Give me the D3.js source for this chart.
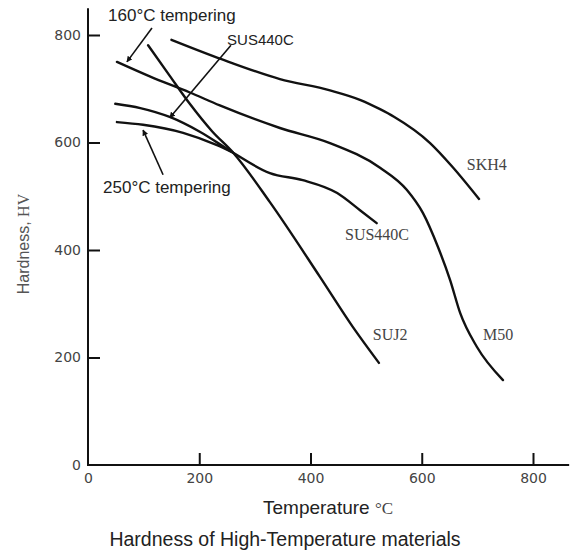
<!DOCTYPE html>
<html>
<head>
<meta charset="utf-8">
<script src="https://cdn.jsdelivr.net/npm/d3@7"></script>
<style>
  body { margin: 0; background: #fff; }
  svg { display: block; }
</style>
</head>
<body>
<div id="chart-area"></div>
<script>
// curve data: [temperature °C, hardness HV]
var skh4 = [[150,791],[240,755],[345,718],[435,697],[490,679],[525,662],[550,648],[615,599],[655,555],[703,495]];
var m50 = [[52,750],[111,723],[183,693],[237,669],[345,627],[435,599],[525,553],[573,512],[602,469],[629,406],[651,344],[669,283],[699,220],[746,158]];
var suj2 = [[108,781],[147,724],[183,672],[223,621],[261,581],[327,489],[417,350],[476,257],[523,190]];
var suj2t250 = [[52,638],[99,633],[171,618],[232,595],[261,581]];
var sus440c = [[49,672],[94,664],[148,647],[201,620],[261,581],[327,543],[386,530],[448,506],[489,474],[519,450]];

var tickValues = [0, 200, 400, 600, 800];

// labels next to the curves: [text, temperature, hardness]
var serifLabels = [["SKH4",681,549],["SUS440C",462,419],["SUJ2",512,233],["M50",710,233]];
var sansLabels = [["160°C tempering",36,826],["SUS440C",250,781],["250°C tempering",27,506]];
// arrows: [from T, from HV, to T, to HV]
var arrows = [[115,813,70,750],[257,781,147,646],[135,540,99,623]];

var width = 576, height = 554;

var svg = d3.select("#chart-area")
  .append("svg")
    .attr("width", width)
    .attr("height", height);

var x = d3.scaleLinear().domain([0, 800]).range([88, 533]);
var y = d3.scaleLinear().domain([0, 800]).range([465, 35]);

svg.append("defs").append("marker")
    .attr("id", "head")
    .attr("viewBox", "0 0 10 10")
    .attr("refX", 9).attr("refY", 5)
    .attr("markerWidth", 6).attr("markerHeight", 6)
    .attr("markerUnits", "userSpaceOnUse")
    .attr("orient", "auto")
  .append("path")
    .attr("d", "M0,0 L10,5 L0,10 z")
    .attr("fill", "#111");

// AXES
var yAxisCall = d3.axisLeft(y).tickValues(tickValues).tickSize(-12).tickPadding(7);
var gy = svg.append("g")
    .attr("transform", "translate(" + x(0) + ",0)")
    .call(yAxisCall);

var xAxisCall = d3.axisBottom(x).tickValues(tickValues).tickSize(-12).tickPadding(8);
var gx = svg.append("g")
    .attr("transform", "translate(0," + y(0) + ")")
    .call(xAxisCall);

[gx, gy].forEach(function(g){
  g.select(".domain").remove();
  g.selectAll(".tick line").attr("stroke", "#111").attr("stroke-width", 2);
  g.selectAll(".tick text")
    .attr("fill", "#444")
    .attr("font-family", "DejaVu Sans, sans-serif")
    .attr("font-size", "14px");
});
gx.selectAll(".tick").filter(function(d){ return d === 0; }).select("line").remove();
gy.selectAll(".tick").filter(function(d){ return d === 0; }).select("line").remove();

svg.append("line")
    .attr("x1", x(0)).attr("x2", x(0))
    .attr("y1", y(0) + 1).attr("y2", y(850))
    .attr("stroke", "#111").attr("stroke-width", 2);
svg.append("line")
    .attr("x1", x(0) - 1).attr("x2", x(865))
    .attr("y1", y(0)).attr("y2", y(0))
    .attr("stroke", "#111").attr("stroke-width", 2);

// CURVES
var line = d3.line()
  .x(function(d){ return x(d[0]); })
  .y(function(d){ return y(d[1]); })
  .curve(d3.curveMonotoneX);

svg.selectAll("path.curve")
  .data([skh4, m50, suj2, suj2t250, sus440c])
  .enter().append("path")
    .attr("class", "curve")
    .attr("d", line)
    .attr("fill", "none")
    .attr("stroke", "#111")
    .attr("stroke-width", 2.4)
    .attr("stroke-linecap", "round");

// ARROWS
svg.selectAll("line.arrow")
  .data(arrows)
  .enter().append("line")
    .attr("class", "arrow")
    .attr("x1", function(d){ return x(d[0]); })
    .attr("y1", function(d){ return y(d[1]); })
    .attr("x2", function(d){ return x(d[2]); })
    .attr("y2", function(d){ return y(d[3]); })
    .attr("stroke", "#111")
    .attr("stroke-width", 1.6)
    .attr("marker-end", "url(#head)");

// LABELS
svg.selectAll("text.serif")
  .data(serifLabels)
  .enter().append("text")
    .attr("x", function(d){ return x(d[1]); })
    .attr("y", function(d){ return y(d[2]); })
    .attr("font-family", "Liberation Serif, serif")
    .attr("font-size", "16px")
    .attr("fill", "#444")
    .text(function(d){ return d[0]; });

svg.selectAll("text.sans")
  .data(sansLabels)
  .enter().append("text")
    .attr("x", function(d){ return x(d[1]); })
    .attr("y", function(d){ return y(d[2]); })
    .attr("font-family", "Liberation Sans, Arial, sans-serif")
    .attr("font-size", function(d){ return d[0] === "SUS440C" ? "15px" : "17px"; })
    .attr("fill", "#222")
    .text(function(d){ return d[0]; });

// axis titles
var xt = svg.append("text")
    .attr("x", 263)
    .attr("y", 514)
    .attr("font-family", "Liberation Sans, Arial, sans-serif")
    .attr("font-size", "19px")
    .attr("fill", "#222")
    .text("Temperature ");
xt.append("tspan")
    .attr("font-family", "Liberation Serif, serif")
    .attr("font-size", "17px")
    .attr("fill", "#444")
    .text("°C");

var yt = svg.append("text")
    .attr("transform", "translate(29,244) rotate(-90)")
    .attr("text-anchor", "middle")
    .attr("font-family", "Liberation Sans, Arial, sans-serif")
    .attr("font-size", "16px")
    .attr("fill", "#555")
    .text("Hardness, ");
yt.append("tspan")
    .attr("font-family", "Liberation Serif, serif")
    .text("HV");

svg.append("text")
    .attr("x", 285)
    .attr("y", 546)
    .attr("text-anchor", "middle")
    .attr("font-family", "Liberation Sans, Arial, sans-serif")
    .attr("font-size", "19.5px")
    .attr("fill", "#222")
    .text("Hardness of High-Temperature materials");
</script>
</body>
</html>
